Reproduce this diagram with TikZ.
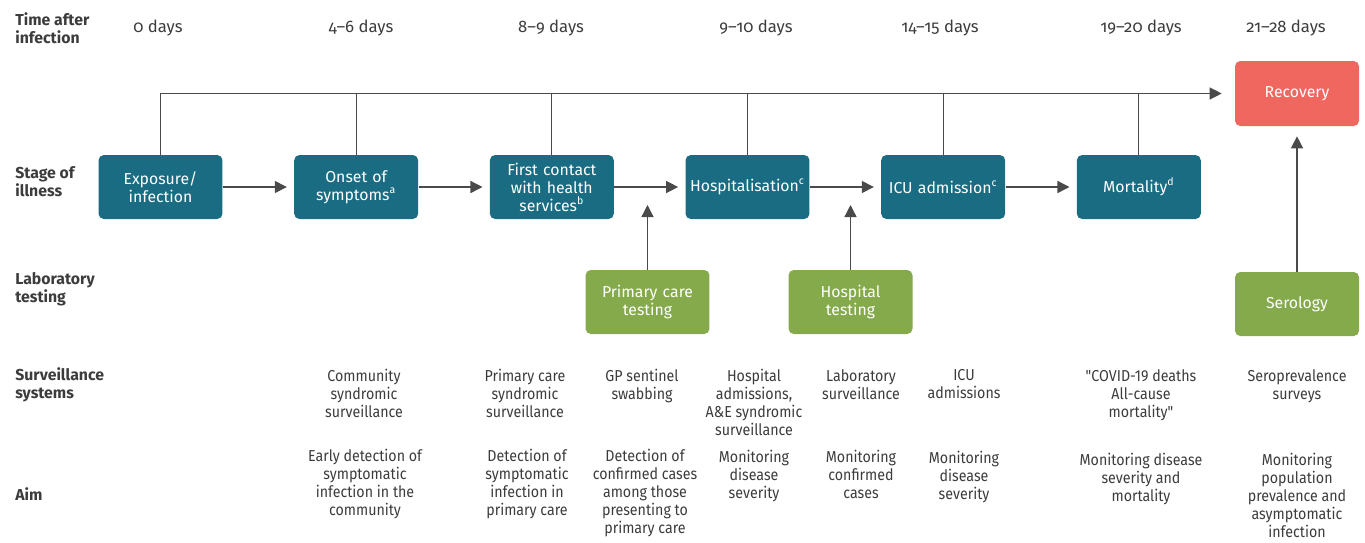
\documentclass[tikz,border=0pt]{standalone}
\usepackage{fontspec}
\setmainfont{Fira Sans}
\newfontfamily\dayfont[Numbers=OldStyle, Ligatures=TeX]{Fira Sans}
\newfontfamily\narrowfont[FakeStretch=0.9]{Fira Sans}
\usepackage{xcolor}
\usepackage{tikz}
\usetikzlibrary{arrows.meta, positioning}

\definecolor{stageteal}{HTML}{1A6C82}
\definecolor{labgreen}{HTML}{84AA4C}
\definecolor{recoverred}{HTML}{F0675F}
\definecolor{textgray}{HTML}{3C3C3C}
\definecolor{linegray}{HTML}{4A4A4A}

\begin{document}
\begin{tikzpicture}[
        x=0.02cm, y=-0.02cm,
        node distance=1.42cm,
        stage/.style={rectangle, fill=stageteal, text=white, text width=2.3cm, minimum width=2.48cm, minimum height=1.28cm, align=center, rounded corners=3pt, inner sep=0pt, font=\fontsize{9}{10.2}\selectfont},
        labtest/.style={stage, fill=labgreen},
        endbox/.style={stage, fill=recoverred, minimum height=1.3cm},
        rowlabel/.style={anchor=west, align=left, inner sep=0pt, text=textgray, font=\bfseries\fontsize{9}{10.2}\selectfont},
        day/.style={inner sep=0pt, text=textgray, font=\dayfont\fontsize{9.5}{10.2}\selectfont},
        note/.style={anchor=north, align=center, inner sep=0pt, text=textgray, font=\narrowfont\fontsize{9}{10.2}\selectfont},
        link/.style={draw=linegray, line width=0.75pt},
        arrow/.style={link, -{Triangle[length=2.4mm, width=2.4mm]}},
    ]
        \useasboundingbox (0,0) rectangle (1365,542);

        % Row labels
        \node[rowlabel] (rtime) at (15,28) {Time after\\infection};
        \node[rowlabel] (rstage) at (15,182) {Stage of\\illness};
        \node[rowlabel] (rlab) at (15,289) {Laboratory\\testing};
        \node[rowlabel] (rsurv) at (15,385) {Surveillance\\systems};
        \node[rowlabel] (raim) at (15,494) {Aim};

        % Time after infection
        \node[day] (d0) at (158,28) {0 days};
        \node[day] (d1) at (361,28) {4--6 days};
        \node[day] (d2) at (551,28) {8--9 days};
        \node[day] (d3) at (756,28) {9--10 days};
        \node[day] (d4) at (940,28) {14--15 days};
        \node[day] (d5) at (1141,28) {19--20 days};
        \node[day] (d6) at (1286,28) {21--28 days};

        % Stages of illness
        \node[stage] (exposure) at (160.5,187) {Exposure/\\infection};
        \node[stage, right=of exposure] (onset) {Onset of\\symptoms\textsuperscript{a}};
        \node[stage, right=of onset] (contact) {First contact\\with health\\services\textsuperscript{b}};
        \node[stage, right=of contact] (hospital) {Hospitalisation\textsuperscript{c}};
        \node[stage, right=of hospital] (icu) {ICU admission\textsuperscript{c}};
        \node[stage, right=of icu] (mortality) {Mortality\textsuperscript{d}};
        \node[endbox] (recovery) at (1297,93.5) {Recovery};

        % Laboratory testing
        \node[labtest] (pctest) at (647.5,302) {Primary care\\testing};
        \node[labtest] (hosptest) at (850.5,302) {Hospital\\testing};
        \node[labtest] (serology) at (1297,304) {Serology};

        % Surveillance systems
        \node[note] (s1) at (364,369) {Community\\syndromic\\surveillance};
        \node[note] (s2) at (525,369) {Primary care\\syndromic\\surveillance};
        \node[note] (s3) at (642,369) {GP sentinel\\swabbing};
        \node[note] (s4) at (754,369) {Hospital\\admissions,\\A\&E syndromic\\surveillance};
        \node[note] (s5) at (861,369) {Laboratory\\surveillance};
        \node[note] (s6) at (964,369) {ICU\\admissions};
        \node[note] (s7) at (1141,369) {"COVID-19 deaths\\All-cause\\mortality"};
        \node[note] (s8) at (1297,369) {Seroprevalence\\surveys};

        % Aims
        \node[note] (a1) at (365,449) {Early detection of\\symptomatic\\infection in the\\community};
        \node[note] (a2) at (527,449) {Detection of\\symptomatic\\infection in\\primary care};
        \node[note] (a3) at (645,449) {Detection of\\confirmed cases\\among those\\presenting to\\primary care};
        \node[note] (a4) at (754,450) {Monitoring\\disease\\severity};
        \node[note] (a5) at (861,450) {Monitoring\\confirmed\\cases};
        \node[note] (a6) at (964,451) {Monitoring\\disease\\severity};
        \node[note] (a7) at (1141,453) {Monitoring disease\\severity and\\mortality};
        \node[note] (a8) at (1297,453) {Monitoring\\population\\prevalence and\\asymptomatic\\infection};

        % Line to recovery
        \draw[arrow, shorten >=0.26cm] (exposure.north) |- (recovery.west);
        \foreach \n in {onset, contact, hospital, icu, mortality}
            \draw[link] (\n.north) -- (\n.north |- recovery.west);

        % Arrows between stages
        \draw[arrow, shorten >=0.14cm] (exposure) -- (onset);
        \draw[arrow, shorten >=0.14cm] (onset) -- (contact);
        \draw[arrow, shorten >=0.14cm] (contact) -- (hospital);
        \draw[arrow, shorten >=0.14cm] (hospital) -- (icu);
        \draw[arrow, shorten >=0.14cm] (icu) -- (mortality);

        % Arrows from testing
        \draw[arrow, shorten >=0.36cm] (pctest.north) -- (pctest.north |- contact.east);
        \draw[arrow, shorten >=0.36cm] (hosptest.north) -- (hosptest.north |- hospital.east);
        \draw[arrow, shorten >=0.2cm] (serology) -- (recovery);
    \end{tikzpicture}
\end{document}
